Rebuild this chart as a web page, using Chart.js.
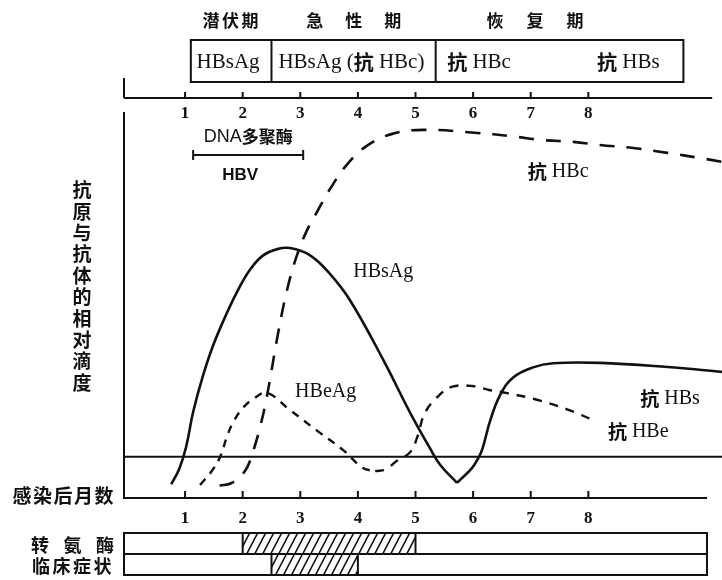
<!DOCTYPE html>
<html>
<head>
<meta charset="utf-8">
<title>乙型肝炎病毒感染的血清学变化</title>
<script src="https://cdn.jsdelivr.net/npm/chart.js"></script>
<style>
  html, body { margin: 0; padding: 0; background: #fff; }
  canvas { display: block; }
</style>
</head>
<body>
<canvas id="hbv-chart" width="722" height="580"></canvas>

<script>
// months after infection (axis labels)
const monthTicks = [1, 2, 3, 4, 5, 6, 7, 8];

// curves: [month, relative titre], 0 = detection line
const hbsAg = [[0.76,-0.80],[0.90,-0.35],[1.02,0.30],[1.14,1.30],[1.31,2.35],[1.49,3.25],[1.73,4.20],
  [1.95,4.95],[2.13,5.45],[2.35,5.85],[2.60,6.04],[2.82,6.07],[3.17,5.86],[3.50,5.35],[3.86,4.56],
  [4.44,2.82],[4.91,1.27],[5.25,0.25],[5.43,-0.24],[5.72,-0.76]];
const antiHBs = [[5.72,-0.76],[5.98,-0.33],[6.09,-0.04],[6.16,0.22],[6.30,1.07],[6.47,1.80],[6.69,2.30],
  [7.04,2.60],[7.39,2.72],[8.20,2.73],[9.37,2.61],[10.32,2.47]];
const hbeAg = [[1.26,-0.82],[1.47,-0.40],[1.61,0.0],[1.73,0.60],[1.85,1.05],[2.02,1.45],[2.20,1.70],
  [2.42,1.86],[2.82,1.36],[3.29,0.76],[3.74,0.20],[4.09,-0.33],[4.30,-0.42]];
const antiHBe = [[4.30,-0.42],[4.50,-0.36],[4.65,-0.15],[4.91,0.14],[5.03,0.57],[5.17,1.30],[5.43,1.82],
  [5.64,2.04],[5.98,2.06],[6.26,1.95],[6.59,1.85],[7.06,1.68],[7.63,1.38],[8.08,1.07]];
const antiHBc = [[1.60,-0.84],[1.80,-0.77],[1.97,-0.55],[2.08,-0.30],[2.18,0.15],[2.30,0.85],[2.42,1.75],
  [2.61,3.55],[2.77,4.85],[2.94,5.85],[3.12,6.60],[3.29,7.12],[3.52,7.80],[3.81,8.50],[4.16,9.05],
  [4.61,9.40],[5.13,9.51],[6.07,9.42],[6.64,9.33],[7.22,9.21],[7.74,9.16],[8.20,9.07],[8.78,8.98],
  [9.37,8.84],[9.94,8.69],[10.32,8.58]];

// stages and markers in the top box
const phaseNames = ['潜伏期', '急性期', '恢复期'];
const phaseEdges = [1.1, 2.5, 5.35, 9.65];
const markerNames = ['HBsAg', 'HBsAg (抗 HBc)', '抗 HBc', '抗 HBs'];

// DNA polymerase / HBV detectable (months)
const dnaPolymerase = [1.14, 3.05];

// bottom strips: abnormal period (months)
const clinicalRows = ['转氨酶', '临床症状'];
const abnormalFrom = [2, 2.5];
const abnormalTo = [5, 4];

const ink = '#111';
const serif = '"Liberation Serif", "DejaVu Serif", serif';
const cjk = '"Noto Sans CJK SC", sans-serif';
const CJK_RE = /[\u3000-\u9fff\uff00-\uffef]/;

// draw text that mixes latin (serif) and chinese (bold sans) runs
function mixedText(ctx, text, x, y, size, align, latinFont) {
  const runs = [];
  for (const ch of text) {
    const c = CJK_RE.test(ch);
    const last = runs[runs.length - 1];
    if (last && last.c === c) last.t += ch; else runs.push({ t: ch, c });
  }
  const fontOf = r => r.c ? `bold ${size - 1}px ${cjk}` : `${size}px ${latinFont || serif}`;
  let w = 0;
  runs.forEach(r => { ctx.font = fontOf(r); r.w = ctx.measureText(r.t).width; w += r.w; });
  let cx = align === 'center' ? x - w / 2 : align === 'right' ? x - w : x;
  ctx.textAlign = 'left';
  ctx.textBaseline = 'middle';
  runs.forEach(r => { ctx.font = fontOf(r); ctx.fillText(r.t, cx, y); cx += r.w; });
}

// chinese characters laid out one by one with a fixed step
function spacedChars(ctx, text, x, y, size, step, vertical) {
  ctx.font = `bold ${size}px ${cjk}`;
  ctx.textAlign = 'center';
  ctx.textBaseline = 'middle';
  [...text].forEach((ch, i) => {
    if (vertical) ctx.fillText(ch, x, y + i * step);
    else ctx.fillText(ch, x + i * step, y);
  });
}

function line(ctx, x1, y1, x2, y2) {
  ctx.beginPath(); ctx.moveTo(x1, y1); ctx.lineTo(x2, y2); ctx.stroke();
}

const curveLabelAt = {
  'HBsAg': [3.92, 5.37], '抗 HBs': [8.9, 1.70], 'HBeAg': [2.91, 1.88],
  '抗 HBe': [8.34, 0.72], '抗 HBc': [6.95, 8.28]
};

const figurePlugin = {
  id: 'figure',
  afterDraw(chart) {
    const ctx = chart.ctx;
    const xs = chart.scales.x, ys = chart.scales.y;
    const X = v => xs.getPixelForValue(v);
    const Y = v => ys.getPixelForValue(v);
    const { left, right, top, bottom } = chart.chartArea;
    ctx.save();
    ctx.strokeStyle = ink;
    ctx.fillStyle = ink;
    ctx.lineWidth = 2;

    // detection line
    line(ctx, left, Y(0), right, Y(0));

    // bottom axis with inward ticks
    line(ctx, left, bottom, X(10.06), bottom);
    monthTicks.forEach(m => line(ctx, X(m), bottom, X(m), bottom - 7));

    // top axis
    const topAxis = top - 15;
    line(ctx, left, topAxis, X(10.15), topAxis);
    line(ctx, left, topAxis - 20, left, topAxis);
    monthTicks.forEach(m => line(ctx, X(m), topAxis, X(m), topAxis - 6));
    ctx.font = `bold 17px ${serif}`;
    ctx.textAlign = 'center';
    ctx.textBaseline = 'middle';
    monthTicks.forEach(m => ctx.fillText(String(m), X(m), topAxis + 16));

    // stage box
    const boxTop = 40, boxBot = 82;
    ctx.strokeRect(X(phaseEdges[0]), boxTop, X(phaseEdges[3]) - X(phaseEdges[0]), boxBot - boxTop);
    line(ctx, X(phaseEdges[1]), boxTop, X(phaseEdges[1]), boxBot);
    line(ctx, X(phaseEdges[2]), boxTop, X(phaseEdges[2]), boxBot);
    const markerAt = [1.2, 2.62, 5.55, 8.15];
    markerNames.forEach((t, i) => mixedText(ctx, t, X(markerAt[i]), 62, 21, 'left'));

    // stage names above the box
    const phaseAt = [[1.45, 19.5], [3.25, 39], [6.38, 40]];
    phaseNames.forEach((t, i) => spacedChars(ctx, t, X(phaseAt[i][0]), 21, 17, phaseAt[i][1]));

    // DNA polymerase / HBV bracket
    const bx1 = X(dnaPolymerase[0]), bx2 = X(dnaPolymerase[1]), by = top + 42;
    line(ctx, bx1, by, bx2, by);
    line(ctx, bx1, by - 5, bx1, by + 5);
    line(ctx, bx2, by - 5, bx2, by + 5);
    mixedText(ctx, 'DNA多聚酶', (bx1 + bx2) / 2, by - 18, 18, 'center', '"Liberation Sans", sans-serif');
    ctx.font = `bold 17px "Liberation Sans", sans-serif`;
    ctx.textAlign = 'center';
    ctx.fillText('HBV', (bx1 + bx2) / 2 - 8, by + 20);

    // curve labels
    chart.data.datasets.forEach(ds => {
      const p = curveLabelAt[ds.label];
      if (p) mixedText(ctx, ds.label, X(p[0]), Y(p[1]), 20, 'left');
    });

    // axis titles
    spacedChars(ctx, '抗原与抗体的相对滴度', 82, 190, 19, 21.4, true);
    spacedChars(ctx, '感染后月数', 22, bottom - 2, 19, 20.5);

    // clinical strips
    const sTop = 533, sMid = 554, sBot = 575, sRight = X(10.06);
    ctx.strokeRect(left, sTop, sRight - left, sBot - sTop);
    line(ctx, left, sMid, sRight, sMid);
    const rows = [[sTop, sMid], [sMid, sBot]];
    clinicalRows.forEach((name, i) => {
      const [y1, y2] = rows[i];
      const x1 = X(abnormalFrom[i]), x2 = X(abnormalTo[i]);
      ctx.save();
      ctx.beginPath();
      ctx.rect(x1, y1, x2 - x1, y2 - y1);
      ctx.clip();
      ctx.lineWidth = 1.6;
      for (let hx = x1 - 20; hx < x2 + 20; hx += 8) line(ctx, hx, y2, hx + 11, y1);
      ctx.restore();
      line(ctx, x1, y1, x1, y2);
      line(ctx, x2, y1, x2, y2);
    });
    spacedChars(ctx, '转氨酶', 40, 545, 18, 32.5);
    spacedChars(ctx, '临床症状', 41, 566, 18, 20.5);

    ctx.restore();
  }
};

const xy = arr => arr.map(([x, y]) => ({ x, y }));
const curve = (label, data, dash, width) => ({
  label, data: xy(data), borderColor: ink, borderWidth: width, borderDash: dash,
  pointRadius: 0, fill: false, tension: 0.4
});

new Chart(document.getElementById('hbv-chart'), {
  type: 'line',
  data: {
    datasets: [
      curve('HBsAg', hbsAg, [], 2.6),
      curve('抗 HBs', antiHBs, [], 2.6),
      curve('HBeAg', hbeAg, [8, 7], 2.4),
      curve('抗 HBe', antiHBe, [9, 8], 2.4),
      curve('抗 HBc', antiHBc, [15, 12], 2.6)
    ]
  },
  options: {
    responsive: false,
    animation: false,
    layout: { padding: { top: 113, left: 0, right: 0, bottom: 0 } },
    plugins: { legend: { display: false }, tooltip: { enabled: false } },
    scales: {
      x: {
        type: 'linear', min: -0.06, max: 10.32,
        grid: { display: false, drawTicks: false },
        border: { display: false },
        afterBuildTicks: axis => { axis.ticks = monthTicks.map(v => ({ value: v })); },
        afterFit: axis => { axis.height = 82; },
        ticks: { color: ink, padding: 10, font: { family: serif, size: 17, weight: 'bold' } }
      },
      y: {
        type: 'linear', min: -1.2, max: 10,
        grid: { display: false, drawTicks: false },
        border: { display: true, color: ink, width: 2 },
        ticks: { display: false },
        afterFit: axis => { axis.width = 124; }
      }
    }
  },
  plugins: [figurePlugin]
});
</script>
</body>
</html>
